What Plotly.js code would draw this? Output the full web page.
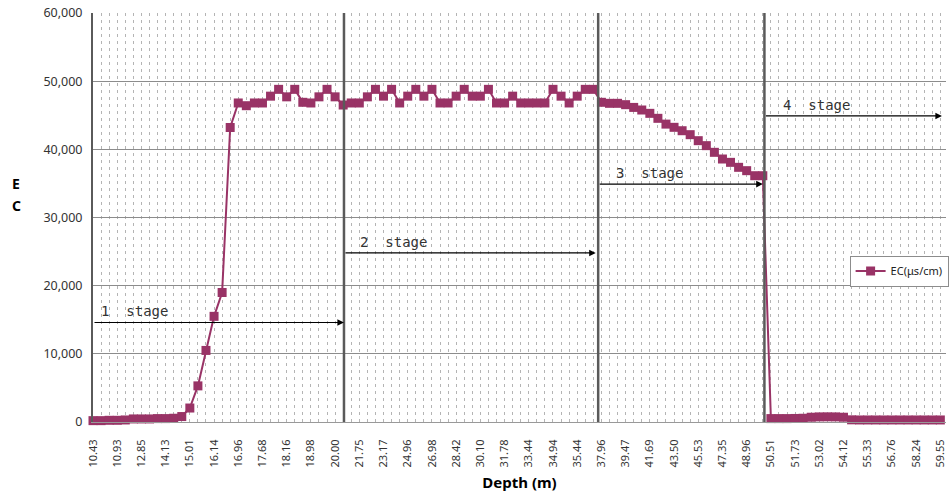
<!DOCTYPE html>
<html><head><meta charset="utf-8">
<script src="https://cdn.plot.ly/plotly-3.0.1.min.js"></script>
<style>html,body{margin:0;padding:0;background:#fff;overflow:hidden}</style>
</head><body><div id="chart" style="width:949px;height:498px"></div>
<script>
// Tick labels (every third category), depth in m
const depthLabels = ['10.43','10.93','12.85','14.13','15.01','16.14','16.96','17.68','18.16','18.98','20.00','21.75',
  '23.17','24.96','26.98','28.42','30.10','31.78','33.44','34.94','35.44','37.96','39.47','41.69',
  '43.50','45.53','47.35','48.96','50.51','51.73','53.02','54.12','55.33','56.76','58.24','59.55'];

// EC (μs/cm) per measured category
const ecValues = [
  200, 200, 250, 250, 300, 450, 450, 450, 500, 500, 550, 800,
  2050, 5300, 10500, 15500, 19000, 43200, 46800, 46400, 46800, 46800, 47800, 48800,
  47700, 48800, 46900, 46800, 47700, 48800, 47700, 46500, 46800, 46800, 47700, 48800,
  47800, 48800, 46800, 47800, 48800, 47800, 48800, 46800, 46800, 47800, 48800, 47800,
  47800, 48800, 46800, 46800, 47800, 46800, 46800, 46800, 46800, 48800, 47800, 46800,
  47800, 48800, 48800, 46900, 46750, 46750, 46550, 46150, 45770, 45280, 44550, 43700,
  43230, 42730, 42150, 41270, 40540, 39560, 38580, 38090, 37360, 36870, 36130, 36130,
  500, 500, 500, 520, 550, 700, 750, 760, 750, 700, 320, 300,
  300, 300, 300, 300, 300, 300, 300, 300, 300, 300
];

const stageNames = ['1  stage', '2  stage', '3  stage', '4  stage'];
const stageStart = [0, 31.1, 62.6, 83.2];
const stageEnd   = [31.1, 62.3, 83.0, 105.2];
const stageLevel = [14600, 24800, 34900, 44900];
const stageTextX = [0.85, 32.9, 64.7, 85.4];

const xIdx = ecValues.map((v, i) => i);
const tickVals = depthLabels.map((t, i) => i * 3);
const xRange = [0, 105.7];

const trace = {
  x: xIdx, y: ecValues, type: 'scatter', mode: 'lines+markers', name: 'EC(μs/cm)',
  line: {color: '#993366', width: 2},
  marker: {symbol: 'square', size: 9, color: '#993366'},
  cliponaxis: false
};

const shapes = [];
[stageStart[1], stageStart[2], stageStart[3]].forEach(x => {
  shapes.push({type: 'line', xref: 'x', yref: 'paper', x0: x, x1: x, y0: 0, y1: 1,
    line: {color: '#5a5a5a', width: 2.5}, layer: 'above'});
});

const annotations = [];
stageNames.forEach((name, i) => {
  annotations.push({x: stageEnd[i], y: stageLevel[i], ax: stageStart[i], ay: stageLevel[i],
    xref: 'x', yref: 'y', axref: 'x', ayref: 'y', text: '', showarrow: true,
    arrowhead: 2, arrowsize: 1.1, arrowwidth: 1.2, arrowcolor: '#000', standoff: 0});
  annotations.push({x: stageTextX[i], y: stageLevel[i], xref: 'x', yref: 'y', text: name,
    showarrow: false, xanchor: 'left', yanchor: 'bottom', yshift: 2, borderpad: 0,
    font: {family: 'DejaVu Sans Mono', size: 14, color: '#333'}});
});
// vertical (stacked) y-axis title
annotations.push({xref: 'paper', yref: 'paper', x: -0.09, y: (422 - 183) / 409, xanchor: 'center', yanchor: 'middle',
  text: '<b>E</b>', showarrow: false, font: {family: 'Noto Sans', size: 14, color: '#000'}});
annotations.push({xref: 'paper', yref: 'paper', x: -0.09, y: (422 - 205) / 409, xanchor: 'center', yanchor: 'middle',
  text: '<b>C</b>', showarrow: false, font: {family: 'Noto Sans', size: 14, color: '#000'}});

const layout = {
  width: 949, height: 498,
  margin: {l: 93, r: 0, t: 13, b: 76},
  paper_bgcolor: '#fff', plot_bgcolor: '#fff',
  showlegend: true,
  legend: {x: 0.887, xanchor: 'left', y: 0.369, yanchor: 'middle', bgcolor: '#fff',
    bordercolor: '#8c8c8c', borderwidth: 1, itemwidth: 30,
    font: {family: 'Noto Sans', size: 11, color: '#222'}},
  xaxis: {
    range: xRange, tickmode: 'array', tickvals: tickVals, ticktext: depthLabels,
    tickangle: -90, tickfont: {family: 'Noto Sans', size: 11, color: '#333'},
    ticks: 'outside', ticklen: 12, tickcolor: 'rgba(0,0,0,0)',
    showgrid: true, gridcolor: '#b4b4b4', griddash: '3px,4px', gridwidth: 1,
    minor: {tickmode: 'linear', tick0: 0, dtick: 1, ticks: '',
      showgrid: true, gridcolor: '#b4b4b4', griddash: '3px,4px', gridwidth: 1},
    showline: true, linecolor: '#999', linewidth: 1, zeroline: false,
    title: {text: '<b>Depth (m)</b>', font: {family: 'Noto Sans', size: 15, color: '#000'}, standoff: 10}
  },
  // overlay axis carrying the small category tick marks
  xaxis2: {
    overlaying: 'x', anchor: 'y', side: 'bottom', range: xRange,
    tickmode: 'linear', tick0: 0, dtick: 1, ticks: 'outside', ticklen: 4, tickcolor: '#999',
    showticklabels: false, showgrid: false, zeroline: false, showline: false
  },
  yaxis: {
    range: [0, 60000], dtick: 10000, tickformat: ',',
    tickfont: {family: 'Noto Sans', size: 12.5, color: '#333'},
    showgrid: true, gridcolor: '#8c8c8c', gridwidth: 1,
    showline: true, linecolor: '#5a5a5a', linewidth: 2, zeroline: false,
    ticks: '', ticklabelstandoff: 6
  },
  shapes: shapes,
  annotations: annotations
};

Plotly.newPlot('chart', [trace], layout, {displayModeBar: false, responsive: false});
</script>
</body></html>
